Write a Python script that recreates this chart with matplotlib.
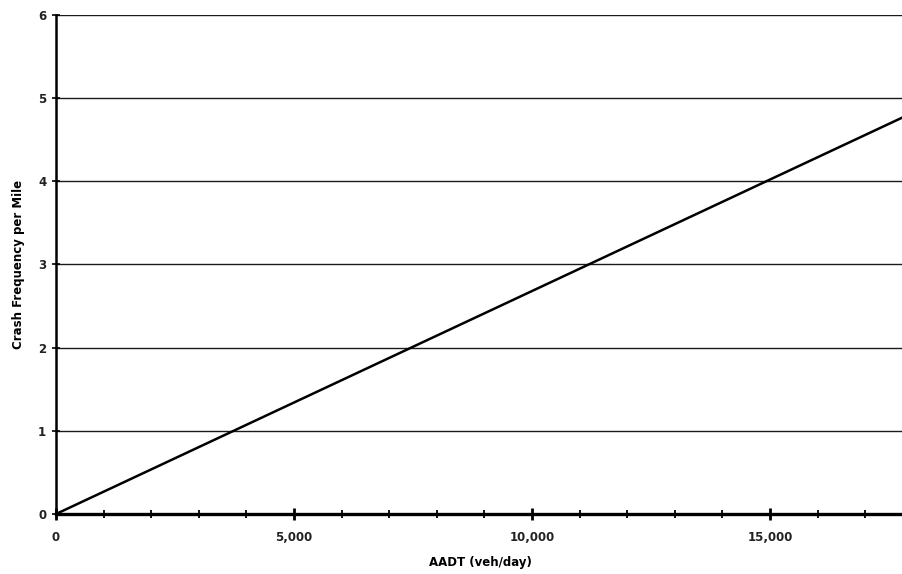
import matplotlib
matplotlib.use("Agg")
import matplotlib.pyplot as plt
from matplotlib.ticker import MultipleLocator, FuncFormatter

# values
aadt = [0, 3730, 7460, 11190, 14920, 17830]
crash_freq = [0, 1, 2, 3, 4, 4.78]
y_ticks = [0, 1, 2, 3, 4, 5, 6]

fig = plt.figure(figsize=(9.03, 5.74), dpi=100, facecolor="white")
ax = fig.add_axes([0.062, 0.1045, 0.940, 0.8695])

ax.plot(aadt, crash_freq, color="black", linewidth=1.8, solid_capstyle="butt", zorder=3)

ax.set_xlim(0, 17830)
ax.set_ylim(0, 6)
ax.set_yticks(y_ticks)
ax.xaxis.set_major_locator(MultipleLocator(5000))
ax.xaxis.set_minor_locator(MultipleLocator(1000))
ax.xaxis.set_major_formatter(FuncFormatter(lambda v, p: f"{v:,.0f}"))

for yv in y_ticks[1:]:
    ax.axhline(yv, color="#1a1a1a", linewidth=1.0, zorder=1)

for s in ["top", "right"]:
    ax.spines[s].set_visible(False)
ax.spines["left"].set_linewidth(1.8)
ax.spines["bottom"].set_linewidth(2.4)

ax.tick_params(axis="x", which="major", direction="inout", length=8, width=2, pad=8)
ax.tick_params(axis="x", which="minor", direction="inout", length=6, width=1.3)
ax.tick_params(axis="y", direction="inout", length=6, width=1.2, pad=4)

for lbl in ax.get_xticklabels() + ax.get_yticklabels():
    lbl.set_fontsize(8.5)
    lbl.set_fontweight("bold")
    lbl.set_color("#222222")

ax.set_xlabel("AADT (veh/day)", fontsize=8.5, fontweight="bold")
ax.xaxis.set_label_coords(0.5, -0.085)
ax.set_ylabel("Crash Frequency per Mile", fontsize=8.5, fontweight="bold")
ax.yaxis.set_label_coords(-0.037, 0.5)

fig.savefig("out.png", dpi=100, facecolor="white")
